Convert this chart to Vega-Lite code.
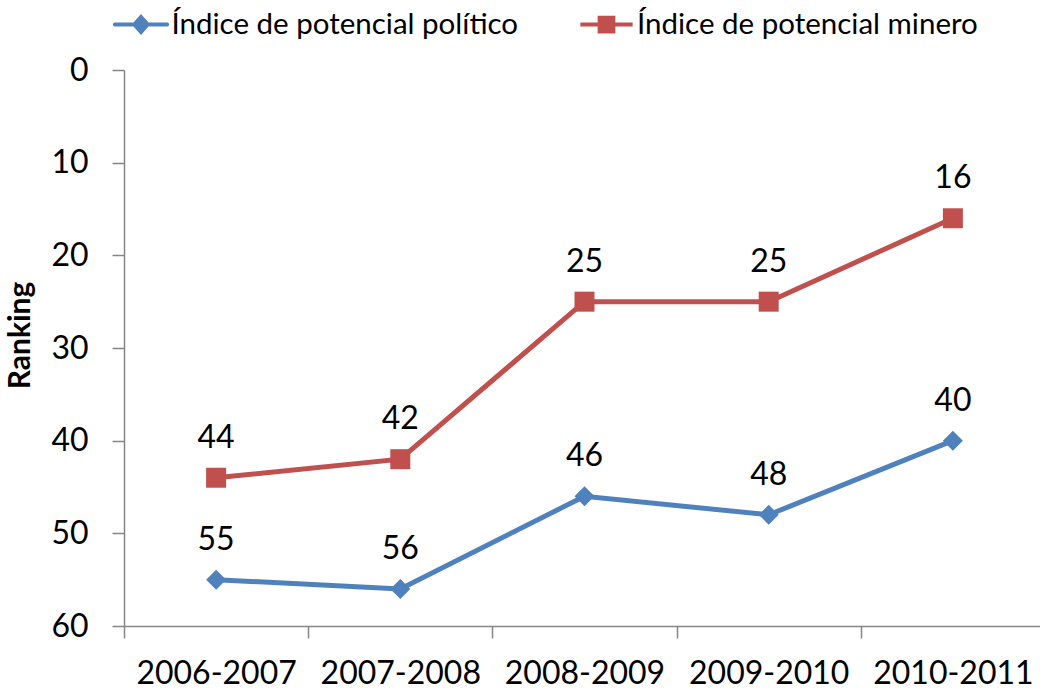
{
  "$schema": "https://vega.github.io/schema/vega-lite/v6.json",
  "autosize": "none",
  "padding": {"left": 124, "top": 70, "right": 0, "bottom": 63},
  "width": 921,
  "height": 556,
  "background": "white",
  "config": {
    "font": "Lato",
    "view": {"stroke": null},
    "axis": {"grid": false, "domainColor": "#868686", "domainWidth": 1.5, "tickColor": "#868686", "tickWidth": 1.5, "tickSize": 12, "labelColor": "black", "labelFont": "Lato", "labelFontSize": 32, "titleFont": "Lato", "titleFontWeight": "bold", "titleFontSize": 30, "titleColor": "black"},
    "legend": {"title": null, "orient": "none", "direction": "horizontal", "padding": 0, "labelFont": "Lato", "labelFontSize": 29.5, "labelColor": "black", "labelOffset": 1, "labelLimit": 0, "symbolSize": 3025, "symbolStrokeWidth": 4}
  },
  "data": {
    "values": [
      {"periodo": "2006-2007", "serie": "Índice de potencial político", "rank": 55},
      {"periodo": "2007-2008", "serie": "Índice de potencial político", "rank": 56},
      {"periodo": "2008-2009", "serie": "Índice de potencial político", "rank": 46},
      {"periodo": "2009-2010", "serie": "Índice de potencial político", "rank": 48},
      {"periodo": "2010-2011", "serie": "Índice de potencial político", "rank": 40},
      {"periodo": "2006-2007", "serie": "Índice de potencial minero", "rank": 44},
      {"periodo": "2007-2008", "serie": "Índice de potencial minero", "rank": 42},
      {"periodo": "2008-2009", "serie": "Índice de potencial minero", "rank": 25},
      {"periodo": "2009-2010", "serie": "Índice de potencial minero", "rank": 25},
      {"periodo": "2010-2011", "serie": "Índice de potencial minero", "rank": 16}
    ]
  },
  "encoding": {
    "x": {
      "field": "periodo", "type": "nominal", "sort": null,
      "scale": {"paddingInner": 0, "paddingOuter": 0},
      "axis": {"title": null, "labelAngle": 0, "tickBand": "extent", "labelPadding": 20}
    },
    "y": {
      "field": "rank", "type": "quantitative",
      "scale": {"domain": [0, 60], "reverse": true, "nice": false, "zero": false},
      "axis": {"title": "Ranking", "values": [0, 10, 20, 30, 40, 50, 60], "labelPadding": 24, "titleX": -104, "titleY": 265, "titleBaseline": "middle"}
    }
  },
  "layer": [
    {
      "mark": {"type": "line", "strokeWidth": 5},
      "encoding": {
        "stroke": {"field": "serie", "type": "nominal", "scale": {"domain": ["Índice de potencial político", "Índice de potencial minero"], "range": ["#4F81BD", "#C0504D"]},
          "legend": {"values": ["Índice de potencial político"], "legendX": -12.5, "legendY": -75, "symbolType": "M-0.95,0H0.95M0,-0.27L0.24,0L0,0.27L-0.24,0Z",
            "encode": {"symbols": {"update": {"fill": {"value": "#4F81BD"}, "stroke": {"value": "#4F81BD"}, "strokeCap": {"value": "round"}, "strokeWidth": {"value": 4}, "opacity": {"value": 1}}}}}}
      }
    },
    {
      "transform": [{"filter": {"field": "serie", "equal": "Índice de potencial político"}}],
      "mark": {"type": "point", "filled": true, "shape": "diamond", "size": 400, "opacity": 1, "color": "#4F81BD"}
    },
    {
      "transform": [{"filter": {"field": "serie", "equal": "Índice de potencial minero"}}],
      "mark": {"type": "point", "filled": true, "shape": "square", "size": 400, "opacity": 1},
      "encoding": {
        "fill": {"field": "serie", "type": "nominal", "scale": {"domain": ["Índice de potencial minero", "Índice de potencial político"], "range": ["#C0504D", "#4F81BD"]},
          "legend": {"values": ["Índice de potencial minero"], "legendX": 453, "legendY": -75, "symbolType": "M-0.95,0H0.95M-0.25,-0.25H0.25V0.25H-0.25Z", "symbolStrokeColor": "#C0504D", "symbolStrokeWidth": 4,
            "encode": {"symbols": {"update": {"fill": {"value": "#C0504D"}, "stroke": {"value": "#C0504D"}, "strokeCap": {"value": "round"}, "strokeWidth": {"value": 4}, "opacity": {"value": 1}}}}}}
      }
    },
    {
      "mark": {"type": "text", "dy": -40, "fontSize": 32, "font": "Lato", "color": "black", "baseline": "middle"},
      "encoding": {"text": {"field": "rank", "type": "quantitative"}}
    }
  ]
}
